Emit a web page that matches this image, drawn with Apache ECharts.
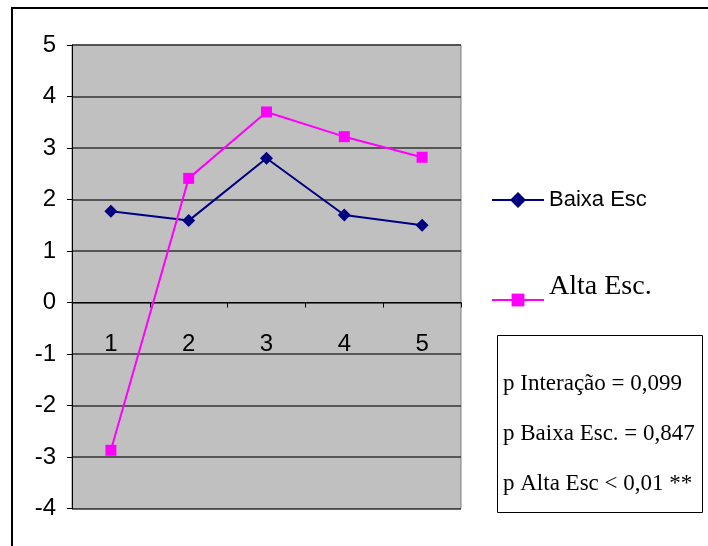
<!DOCTYPE html>
<html>
<head>
<meta charset="utf-8">
<script src="https://cdn.jsdelivr.net/npm/echarts@6/dist/echarts.min.js"></script>
<style>html,body{margin:0;padding:0;background:#fff}#c{width:708px;height:546px}</style>
</head>
<body>
<div id="c"></div>
<script>
const categories = ['1', '2', '3', '4', '5'];
const baixaEsc = [1.77, 1.59, 2.80, 1.70, 1.50];
const altaEsc = [-2.87, 2.41, 3.70, 3.22, 2.82];
const seriesNames = ['Baixa Esc', 'Alta Esc.'];
const yTicks = { min: -4, max: 5, interval: 1 };
const pTexts = ['p Interação = 0,099', 'p Baixa Esc. = 0,847', 'p Alta Esc < 0,01 **'];

const chart = echarts.init(document.getElementById('c'), null, { renderer: 'canvas' });
const sans = '"Liberation Sans", Arial, sans-serif';
const serif = '"Liberation Serif", "Times New Roman", serif';

const gridTop = 45, gridBottom = 37.5;
const plotH = 546 - gridTop - gridBottom;
// place the category axis at value 0
const zeroOffset = -plotH * (0 - yTicks.min) / (yTicks.max - yTicks.min);

const option = {
  backgroundColor: '#fff',
  animation: false,
  grid: {
    left: 72, top: gridTop, right: 247, bottom: gridBottom,
    containLabel: false, outerBoundsMode: 'none',
    show: true, backgroundColor: '#C0C0C0', borderColor: '#808080', borderWidth: 1
  },
  xAxis: {
    type: 'category',
    data: categories,
    boundaryGap: true,
    position: 'bottom',
    offset: zeroOffset,
    axisLine: { onZero: false, lineStyle: { color: '#000', width: 1 } },
    axisTick: { show: true, inside: false, length: 5, lineStyle: { color: '#000' } },
    axisLabel: { color: '#000', fontFamily: sans, fontSize: 24, margin: 30 },
    splitLine: { show: false }
  },
  yAxis: {
    type: 'value',
    min: yTicks.min, max: yTicks.max, interval: yTicks.interval,
    axisLine: { show: true, lineStyle: { color: '#000', width: 1 } },
    axisTick: { show: true, length: 5, lineStyle: { color: '#000' } },
    axisLabel: { color: '#000', fontFamily: sans, fontSize: 24, margin: 16 },
    splitLine: { show: true, lineStyle: { color: '#333', width: 1.5 } }
  },
  legend: [
    {
      data: [{ name: seriesNames[0] }],
      textStyle: { fontFamily: sans, fontSize: 22, color: '#000' },
      left: 491, top: 189, padding: 0,
      itemWidth: 52, itemHeight: 20, itemGap: 0, selectedMode: false
    },
    {
      data: [{ name: seriesNames[1] }],
      formatter: n => '{a|' + n + '}',
      textStyle: {
        color: '#000',
        rich: { a: { fontFamily: serif, fontSize: 28, color: '#000', padding: [0, 0, 26, 0] } }
      },
      left: 491, top: 273, padding: 0,
      itemWidth: 52, itemHeight: 16, itemGap: 0, selectedMode: false
    }
  ],
  series: [
    {
      name: seriesNames[0], type: 'line', data: baixaEsc,
      symbol: 'diamond', symbolSize: 13,
      lineStyle: { color: '#000080', width: 2 },
      itemStyle: { color: '#000080' }
    },
    {
      name: seriesNames[1], type: 'line', data: altaEsc,
      symbol: 'rect', symbolSize: 11,
      lineStyle: { color: '#FF00FF', width: 2 },
      itemStyle: { color: '#FF00FF' }
    }
  ],
  graphic: [
    {
      type: 'rect', left: 9.5, top: 5.5, silent: true,
      shape: { width: 760, height: 600 },
      style: { fill: 'none', stroke: '#000', lineWidth: 2 }
    },
    {
      type: 'rect', left: 497, top: 335, silent: true,
      shape: { width: 205, height: 177 },
      style: { fill: '#fff', stroke: '#000', lineWidth: 1 }
    },
    ...pTexts.map((t, i) => ({
      type: 'text', left: 503, top: 372.5 + i * 50, silent: true,
      style: { text: t, fill: '#000', font: '23px ' + serif }
    }))
  ]
};
chart.setOption(option);
</script>
</body>
</html>
